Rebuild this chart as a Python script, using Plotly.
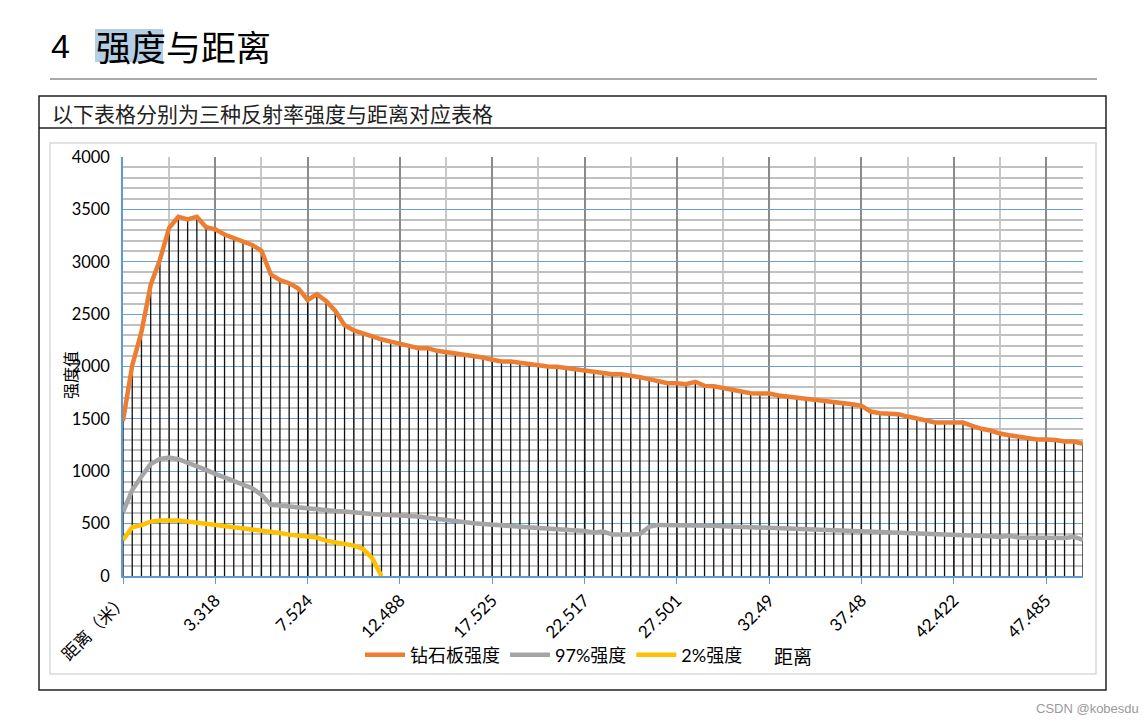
import plotly.graph_objects as go

# ---------------- data ----------------
tick_labels = ["距离（米）", "3.318", "7.524", "12.488", "17.525", "22.517",
               "27.501", "32.49", "37.48", "42.422", "47.485"]

diamond = [1480, 2010, 2330, 2780, 3020, 3325, 3430, 3405, 3430, 3330,
           3310, 3260, 3225, 3190, 3160, 3105, 2880, 2825, 2795, 2745,
           2635, 2690, 2625, 2530, 2395, 2345, 2315, 2285, 2260, 2238,
           2222, 2197, 2175, 2175, 2150, 2137, 2118, 2111, 2102, 2086,
           2064, 2048, 2048, 2035, 2022, 2006, 2000, 1997, 1984, 1971,
           1959, 1946, 1936, 1927, 1927, 1917, 1898, 1879, 1863, 1841,
           1841, 1831, 1854, 1815, 1812, 1793, 1780, 1765, 1745, 1742,
           1742, 1723, 1713, 1697, 1688, 1685, 1678, 1666, 1650, 1640,
           1624, 1570, 1554, 1554, 1545, 1522, 1503, 1475, 1465, 1465,
           1465, 1465, 1433, 1405, 1389, 1360, 1344, 1331, 1315, 1303,
           1303, 1299, 1284, 1284, 1261]

r97 = [610, 820, 950, 1070, 1118, 1130, 1115, 1083, 1051, 1013,
       975, 940, 908, 876, 838, 775, 680, 672, 662, 650,
       640, 631, 624, 620, 615, 605, 602, 592, 586, 583,
       576, 570, 567, 557, 545, 535, 525, 513, 503, 497,
       494, 487, 478, 471, 465, 462, 455, 449, 446, 436,
       430, 415, 425, 395, 392, 395, 400, 470, 488, 488,
       487, 485, 483, 481, 479, 476, 473, 470, 466, 462,
       456, 450, 446, 443, 440, 437, 434, 432, 430, 428,
       425, 421, 418, 415, 412, 408, 405, 402, 398, 395,
       392, 390, 388, 385, 380, 372, 385, 368, 365, 362,
       362, 360, 362, 375, 345]

r2 = [344, 465, 487, 519, 530, 535, 530, 520, 510, 497,
      488, 478, 466, 456, 446, 434, 424, 410, 395, 384,
      376, 367, 338, 322, 312, 290, 258, 170, 0]

# ---------------- geometry helpers (pixel -> paper) ----------------
W, H = 1147, 723
L, R, T, B = 123, 1083, 157, 576
PW, PH = R - L, B - T


def px(x):
    return (x - L) / PW


def py(y):
    return (B - y) / PH


xs = list(range(len(diamond)))
tick_pos = [xs[i] for i in range(0, len(xs), 10)][:len(tick_labels)]

# drop lines from the diamond series down to the axis
drop_x, drop_y = [], []
for xi, v in zip(xs, diamond):
    drop_x += [xi, xi, None]
    drop_y += [0, v, None]

NUM_FONT = "Lato, Noto Sans CJK SC, sans-serif"
CJK_FONT = "Noto Sans CJK SC, sans-serif"

fig = go.Figure()
fig.add_trace(go.Scatter(x=drop_x, y=drop_y, mode="lines",
                         line=dict(color="#111111", width=1.3),
                         showlegend=False, hoverinfo="skip"))
fig.add_trace(go.Scatter(x=xs, y=diamond, mode="lines", name="钻石板强度",
                         line=dict(color="#ED7D31", width=4.5)))
fig.add_trace(go.Scatter(x=xs[:len(r97)], y=r97, mode="lines", name="97%强度",
                         line=dict(color="#A5A5A5", width=4.5)))
fig.add_trace(go.Scatter(x=xs[:len(r2)], y=r2, mode="lines", name="2%强度",
                         line=dict(color="#FFC000", width=4.5)))

fig.update_xaxes(range=[0, len(xs) - 1], tickmode="array", tickvals=tick_pos,
                 ticktext=tick_labels, tickangle=-45,
                 tickfont=dict(family=NUM_FONT, size=17, color="#000"),
                 ticks="outside", ticklen=6, tickcolor="#5B9BD5", tickwidth=1.3,
                 showline=True, linecolor="#5B9BD5", linewidth=1.5,
                 showgrid=True, gridcolor="#8A8A8A", gridwidth=1.5,
                 minor=dict(tickmode="array",
                            tickvals=[p + 5 for p in tick_pos],
                            showgrid=True, gridcolor="#C8C8C8", gridwidth=1.5),
                 zeroline=False, fixedrange=True)
fig.update_yaxes(range=[0, 4000], dtick=500, tick0=0,
                 tickfont=dict(family=NUM_FONT, size=16.5, color="#000"),
                 ticklabelstandoff=8,
                 showline=True, linecolor="#5B9BD5", linewidth=1.5,
                 showgrid=True, gridcolor="#6A9FD8", gridwidth=1.3,
                 minor=dict(dtick=100, tick0=0, showgrid=True,
                            gridcolor="#C0C0C0", gridwidth=1.5),
                 zeroline=False, fixedrange=True)

shapes = [
    # highlight behind 强度
    dict(type="rect", xref="paper", yref="paper", x0=px(95), x1=px(163),
         y0=py(62), y1=py(29), fillcolor="#B4CEE4", line=dict(width=0),
         layer="below"),
    # rule under heading
    dict(type="line", xref="paper", yref="paper", x0=px(50), x1=px(1097),
         y0=py(79), y1=py(79), line=dict(color="#555555", width=1.2)),
    # table outer frame
    dict(type="rect", xref="paper", yref="paper", x0=px(39), x1=px(1106),
         y0=py(690), y1=py(96), line=dict(color="#222222", width=1.5)),
    # table row separator
    dict(type="line", xref="paper", yref="paper", x0=px(39), x1=px(1106),
         y0=py(128), y1=py(128), line=dict(color="#222222", width=1.5)),
    # chart frame
    dict(type="rect", xref="paper", yref="paper", x0=px(50), x1=px(1096),
         y0=py(674), y1=py(143), line=dict(color="#D9D9D9", width=1.5),
         layer="below"),
]

annotations = [
    dict(text="4", x=px(49), y=py(46), xref="paper", yref="paper",
         xanchor="left", yanchor="middle", showarrow=False,
         font=dict(family="Liberation Sans, Arial", size=34, color="#000")),
    dict(text="强度与距离", x=px(94), y=py(46), xref="paper", yref="paper",
         xanchor="left", yanchor="middle", showarrow=False,
         font=dict(family=CJK_FONT, size=35, color="#000")),
    dict(text="以下表格分别为三种反射率强度与距离对应表格", x=px(50), y=py(113),
         xref="paper", yref="paper", xanchor="left", yanchor="middle",
         showarrow=False, font=dict(family=CJK_FONT, size=21, color="#222")),
    dict(text="强度值", x=px(70), y=py(375), xref="paper", yref="paper",
         xanchor="center", yanchor="middle", textangle=-90, showarrow=False,
         font=dict(family=CJK_FONT, size=16, color="#000")),
    dict(text="距离", x=px(772), y=py(655), xref="paper", yref="paper",
         xanchor="left", yanchor="middle", showarrow=False,
         font=dict(family=CJK_FONT, size=19, color="#000")),
    dict(text="CSDN @kobesdu", x=px(1034), y=py(708), xref="paper",
         yref="paper", xanchor="left", yanchor="middle", showarrow=False,
         font=dict(family="Liberation Sans, Arial", size=13, color="#999")),
]

fig.update_layout(
    width=W, height=H,
    margin=dict(l=L, r=W - R, t=T, b=H - B, autoexpand=False),
    paper_bgcolor="white", plot_bgcolor="white",
    showlegend=True,
    legend=dict(orientation="h", x=px(360), y=py(655), xanchor="left",
                yanchor="middle", itemwidth=40,
                font=dict(family=NUM_FONT, size=18, color="#000"),
                bgcolor="rgba(0,0,0,0)", traceorder="normal"),
    shapes=shapes, annotations=annotations,
)

fig.write_html("out.html")
